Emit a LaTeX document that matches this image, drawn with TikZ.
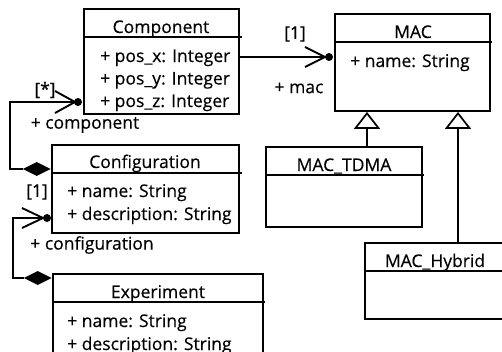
\documentclass[tikz,border=0pt]{standalone}
\usepackage{fontspec}
\setmainfont{Open Sans}
\newfontfamily\umlfam{Open Sans}[FakeBold=0.3]
\usetikzlibrary{shapes.geometric,arrows.meta}
\newcommand\umlfont{\umlfam\fontsize{17.5}{21}\selectfont}
\tikzset{
  umlbox/.style={draw, line width=1.9pt, rectangle, inner sep=0pt, anchor=north west},
  sepline/.style={line width=1.9pt},
  title/.style={anchor=base, inner sep=0pt, font=\umlfont},
  attr/.style={anchor=base west, inner sep=0pt, font=\umlfont},
  rolelbl/.style={anchor=center, inner sep=0pt, font=\umlfont},
  assoc/.style={line width=1.9pt},
  enddot/.style={circle, fill=black, inner sep=0pt, minimum size=8pt},
  comp/.style={diamond, fill=black, inner sep=0pt, aspect=2, minimum width=28pt, minimum height=14pt},
  gen/.style={line width=1.9pt, -{Triangle[open, length=17pt, width=26pt, line width=1.7pt]}},
}
\begin{document}
\begin{tikzpicture}[x=1pt, y=-1pt]
\clip (0,0) rectangle (502,351);
\fill[white] (0,0) rectangle (502,351);

% Component
\node[umlbox, minimum width=155pt, minimum height=105pt] (component) at (83,8) {};
\draw[sepline] (83,37) -- (242,37);
\node[title] (componentT) at (161,33) {Component};
\node[attr] (componentA1) at (100,62) {+ pos\_x: Integer};
\node[attr] (componentA2) at (100,84.5) {+ pos\_y: Integer};
\node[attr] (componentA3) at (100,107) {+ pos\_z: Integer};

% MAC
\node[umlbox, minimum width=155pt, minimum height=97pt] (mac) at (334,13) {};
\draw[sepline] (334,42) -- (492,42);
\node[title] (macT) at (413,38) {MAC};
\node[attr] (macA1) at (350,67) {+ name: String};

% MAC_TDMA
\node[umlbox, minimum width=156pt, minimum height=80pt] (tdma) at (265,146) {};
\draw[sepline] (265,175) -- (424,175);
\node[title] (tdmaT) at (344,171) {MAC\_TDMA};

% MAC_Hybrid
\node[umlbox, minimum width=170pt, minimum height=76pt] (hybrid) at (364,242) {};
\draw[sepline] (364,271) -- (520,271);
\node[title] (hybridT) at (435,267) {MAC\_Hybrid};

% Configuration
\node[umlbox, minimum width=187pt, minimum height=88pt] (config) at (51,144) {};
\draw[sepline] (51,173) -- (242,173);
\node[title] (configT) at (145,168) {Configuration};
\node[attr] (configA1) at (67,197) {+ name: String};
\node[attr] (configA2) at (67,220) {+ description: String};

% Experiment
\node[umlbox, minimum width=210pt, minimum height=110pt] (exper) at (52,273) {};
\draw[sepline] (52,302) -- (265,302);
\node[title] (experT) at (158,298) {Experiment};
\node[attr] (experA1) at (67,327) {+ name: String};
\node[attr] (experA2) at (67,350) {+ description: String};

% Component -> MAC association
\node[enddot] (macdot) at (329,57) {};
\draw[assoc] (component.east |- macdot) -- (macdot);
\draw[assoc] (macdot) ++(-24,-10) -- ++(20,10) -- ++(-20,10);
\node[rolelbl] (macmult) at (295,34) {[1]};
\node[rolelbl] (macrole) at (299,88) {+ mac};

% Configuration <>-> Component
\node[enddot] (compdot) at (78,102) {};
\node[comp, anchor=east] (cfgdiam) at (config.west |- 0,169) {};
\coordinate (bendA) at (10,0);
\draw[assoc] (cfgdiam.west) -- (bendA |- cfgdiam) -- (bendA |- compdot) -- (compdot);
\draw[assoc] (compdot) ++(-23,-11) -- ++(20,11) -- ++(-20,11);
\node[rolelbl] (compmult) at (45,90) {[*]};
\node[rolelbl] (comprole) at (85,125) {+ component};

% Experiment <>-> Configuration
\node[enddot] (cfgdot) at (47,218) {};
\node[comp, anchor=east] (expdiam) at (exper.west |- 0,278) {};
\coordinate (bendB) at (13,0);
\draw[assoc] (expdiam.west) -- (bendB |- expdiam) -- (bendB |- cfgdot) -- (cfgdot);
\draw[assoc] (cfgdot) ++(-25,-10) -- ++(21,10) -- ++(-21,10);
\node[rolelbl] (cfgmult) at (37,192) {[1]};
\node[rolelbl] (cfgrole) at (92,245) {+ configuration};

% Generalizations
\coordinate (genA) at (367,0);
\coordinate (genB) at (458,0);
\draw[gen] (genA |- tdma.north) -- (genA |- mac.south);
\draw[gen] (genB |- hybrid.north) -- (genB |- mac.south);
\end{tikzpicture}
\end{document}
